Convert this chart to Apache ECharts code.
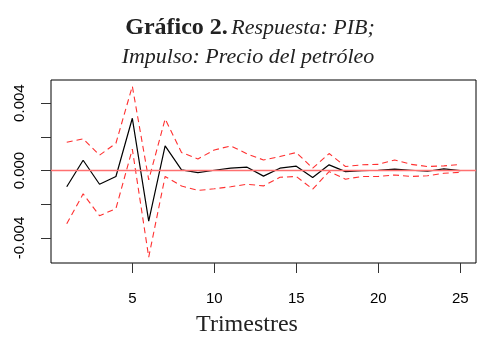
<!DOCTYPE html>
<html>
<head>
<meta charset="utf-8">
<script src="https://cdn.jsdelivr.net/npm/echarts@6/dist/echarts.min.js"></script>
<style>html,body{margin:0;padding:0;background:#fff}#c{width:483px;height:340px}</style>
</head>
<body>
<div id="c"></div>
<script>
const periods = [1,2,3,4,5,6,7,8,9,10,11,12,13,14,15,16,17,18,19,20,21,22,23,24,25];
const response = [-0.00096,0.00061,-0.00081,-0.00035,0.0031,-0.0030,0.00146,0.00004,-0.00012,0.00002,0.00014,0.0002,-0.00033,0.00014,0.00026,-0.00041,0.00034,-0.00006,0.0,0.00002,0.00008,0.00002,-0.00004,0.0001,0.0];
const upperBand = [0.00168,0.00188,0.00091,0.00162,0.0050,-0.00055,0.00306,0.00107,0.00069,0.00122,0.00146,0.00099,0.00063,0.00083,0.00107,0.00014,0.00101,0.00024,0.00034,0.00037,0.00063,0.00037,0.00024,0.00028,0.00036];
const lowerBand = [-0.00315,-0.00138,-0.00268,-0.00225,0.00127,-0.00513,-0.00035,-0.00091,-0.00118,-0.00108,-0.00096,-0.00081,-0.00091,-0.0004,-0.00035,-0.0011,-0.00006,-0.00051,-0.00035,-0.00035,-0.00026,-0.00035,-0.00031,-0.00016,-0.0001];
const xTicks = [5,10,15,20,25];
const yTicks = [-0.004,-0.002,0,0.002,0.004];
const yLabels = [-0.004,0,0.004];

const pair = arr => periods.map((p,i)=>[p,arr[i]]);
const chart = echarts.init(document.getElementById('c'));
const tickFont = {fontFamily:'Liberation Sans, Arial, sans-serif', fontSize:15, color:'#000'};
chart.setOption({
  animation:false,
  grid:{left:51,right:7,top:80,bottom:77,show:true,borderColor:'#000',borderWidth:1,backgroundColor:'transparent'},
  xAxis:{type:'value',min:0.04,max:25.96,
    axisLine:{show:false,onZero:false},splitLine:{show:false},
    axisTick:{show:true,length:10,inside:false,customValues:xTicks,lineStyle:{color:'#333'}},
    axisLabel:Object.assign({customValues:xTicks,margin:28},tickFont)},
  yAxis:{type:'value',min:-0.00548,max:0.00537,
    axisLine:{show:false,onZero:false},splitLine:{show:false},
    axisTick:{show:true,length:10,inside:false,customValues:yTicks,lineStyle:{color:'#333'}},
    axisLabel:Object.assign({customValues:yLabels,rotate:90,margin:24,formatter:v=>v.toFixed(3)},tickFont)},
  graphic:[
    {type:'text',x:250,y:16,style:{
      text:'{b|Gráfico 2.} {i|Respuesta: PIB;}',align:'center',
      rich:{b:{fontFamily:'Liberation Serif, serif',fontWeight:'bold',fontSize:24,fill:'#222'},
            i:{fontFamily:'Liberation Serif, serif',fontStyle:'italic',fontSize:22,fill:'#222'}}}},
    {type:'text',x:248,y:46,style:{
      text:'Impulso: Precio del petróleo',align:'center',fontFamily:'Liberation Serif, serif',fontStyle:'italic',fontSize:22,fill:'#222'}},
    {type:'text',x:247,y:313,style:{
      text:'Trimestres',fontFamily:'Liberation Serif, serif',fontSize:24,fill:'#222',align:'center'}}
  ],
  series:[
    {type:'line',data:pair(upperBand),symbol:'none',lineStyle:{color:'#ff3030',width:1.1,type:[6,4]},z:3},
    {type:'line',data:pair(lowerBand),symbol:'none',lineStyle:{color:'#ff3030',width:1.1,type:[6,4]},z:3},
    {type:'line',data:pair(response),symbol:'none',lineStyle:{color:'#000',width:1.2},z:4,
      markLine:{silent:true,symbol:'none',label:{show:false},lineStyle:{color:'#ff7070',width:1.3,type:'solid'},data:[{yAxis:0}]}}
  ]
});
</script>
</body>
</html>
